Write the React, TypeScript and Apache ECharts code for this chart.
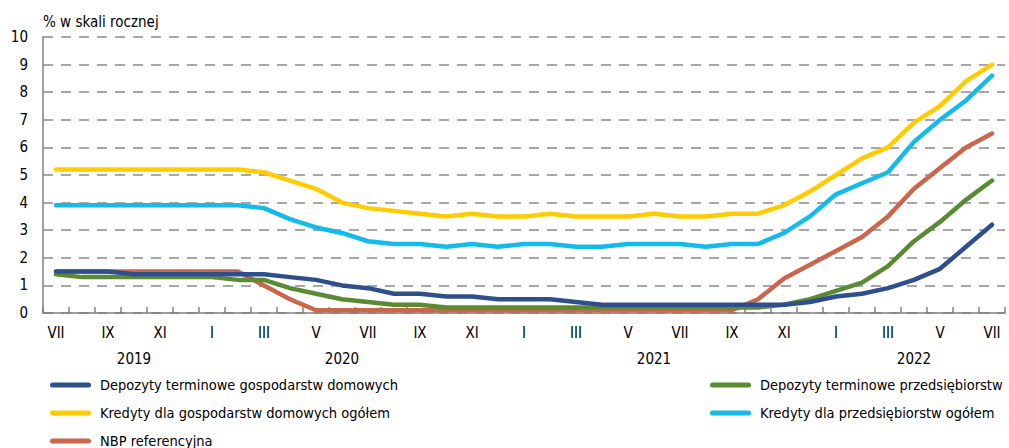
import React, { useEffect, useRef } from "react";
import * as echarts from "echarts";

const months = [
  "VII", "VIII", "IX", "X", "XI", "XII",
  "I", "II", "III", "IV", "V", "VI", "VII", "VIII", "IX", "X", "XI", "XII",
  "I", "II", "III", "IV", "V", "VI", "VII", "VIII", "IX", "X", "XI", "XII",
  "I", "II", "III", "IV", "V", "VI", "VII",
];

const years = ["2019", "2020", "2021", "2022"];
const yearLabelIndex = [3, 11, 23, 33];

const yTicks = [0, 10, 1]; // min, max, interval

const depGosp = [
  1.5, 1.5, 1.5, 1.4, 1.4, 1.4, 1.4, 1.4, 1.4, 1.3, 1.2, 1.0, 0.9, 0.7, 0.7, 0.6, 0.6, 0.5,
  0.5, 0.5, 0.4, 0.3, 0.3, 0.3, 0.3, 0.3, 0.3, 0.3, 0.3, 0.4, 0.6, 0.7, 0.9, 1.2, 1.6, 2.4, 3.2,
];
const depPrzed = [
  1.4, 1.3, 1.3, 1.3, 1.3, 1.3, 1.3, 1.2, 1.2, 0.9, 0.7, 0.5, 0.4, 0.3, 0.3, 0.2, 0.2, 0.2,
  0.2, 0.2, 0.2, 0.2, 0.2, 0.2, 0.2, 0.2, 0.2, 0.2, 0.3, 0.5, 0.8, 1.1, 1.7, 2.6, 3.3, 4.1, 4.8,
];
const kredGosp = [
  5.2, 5.2, 5.2, 5.2, 5.2, 5.2, 5.2, 5.2, 5.1, 4.8, 4.5, 4.0, 3.8, 3.7, 3.6, 3.5, 3.6, 3.5,
  3.5, 3.6, 3.5, 3.5, 3.5, 3.6, 3.5, 3.5, 3.6, 3.6, 3.9, 4.4, 5.0, 5.6, 6.0, 6.9, 7.5, 8.4, 9.0,
];
const kredPrzed = [
  3.9, 3.9, 3.9, 3.9, 3.9, 3.9, 3.9, 3.9, 3.8, 3.4, 3.1, 2.9, 2.6, 2.5, 2.5, 2.4, 2.5, 2.4,
  2.5, 2.5, 2.4, 2.4, 2.5, 2.5, 2.5, 2.4, 2.5, 2.5, 2.9, 3.5, 4.3, 4.7, 5.1, 6.2, 7.0, 7.7, 8.6,
];
const nbp = [
  1.5, 1.5, 1.5, 1.5, 1.5, 1.5, 1.5, 1.5, 1.0, 0.5, 0.1, 0.1, 0.1, 0.1, 0.1, 0.1, 0.1, 0.1,
  0.1, 0.1, 0.1, 0.1, 0.1, 0.1, 0.1, 0.1, 0.1, 0.5, 1.25, 1.75, 2.25, 2.75, 3.5, 4.5, 5.25, 6.0, 6.5,
];

const names = {
  depGosp: "Depozyty terminowe gospodarstw domowych",
  depPrzed: "Depozyty terminowe przedsiębiorstw",
  kredGosp: "Kredyty dla gospodarstw domowych ogółem",
  kredPrzed: "Kredyty dla przedsiębiorstw ogółem",
  nbp: "NBP referencyjna",
};

const colors = {
  depGosp: "#2F4F8C",
  depPrzed: "#5A8A32",
  kredGosp: "#FFCC00",
  kredPrzed: "#12BBEC",
  nbp: "#CB654C",
};

const FONT = "'DejaVu Sans Condensed', sans-serif";
const ICON = "path://M2.5,0 L38.5,0 A2.5,2.5 0 0 1 38.5,5 L2.5,5 A2.5,2.5 0 0 1 2.5,0 Z";

export default function App() {
  const ref = useRef<HTMLDivElement>(null);
  useEffect(() => {
    if (!ref.current) return;
    const chart = echarts.init(ref.current, null, { renderer: "svg" });
    const yearData = months.map((_, i) => {
      const k = yearLabelIndex.indexOf(i);
      return k >= 0 ? years[k] : "";
    });
    const mk = (key: keyof typeof names, data: number[]) => ({
      name: names[key],
      type: "line",
      data,
      showSymbol: false,
      symbol: "none",
      lineStyle: { color: colors[key], width: 4.5, cap: "round", join: "round" },
      itemStyle: { color: colors[key] },
      emphasis: { disabled: true },
    });
    const legendCommon = {
      orient: "vertical",
      top: 371,
      height: 76,
      itemWidth: 41,
      itemHeight: 5,
      itemGap: 10,
      icon: ICON,
      textStyle: {
        fontFamily: FONT,
        fontSize: 14.5,
        color: "#000",
        lineHeight: 18,
        padding: [0, 0, 0, 4],
      },
    };
    chart.setOption({
      animation: false,
      backgroundColor: "#fff",
      textStyle: { fontFamily: FONT },
      grid: { left: 43, right: 4, top: 37, bottom: 135, containLabel: false },
      legend: [
        { ...legendCommon, left: 45, data: [names.depGosp, names.kredGosp, names.nbp] },
        { ...legendCommon, left: 705, data: [names.depPrzed, names.kredPrzed] },
      ],
      xAxis: [
        {
          type: "category",
          data: months,
          boundaryGap: true,
          axisLine: { lineStyle: { color: "#808080", width: 1.5 } },
          axisTick: {
            show: true,
            inside: true,
            length: 6,
            interval: 0,
            lineStyle: { color: "#808080", width: 1.5 },
          },
          axisLabel: {
            interval: 1,
            margin: 12,
            fontSize: 15,
            color: "#000",
            fontFamily: FONT,
          },
          splitLine: { show: false },
        },
        {
          type: "category",
          data: yearData,
          position: "bottom",
          offset: 26,
          boundaryGap: true,
          axisLine: { show: false },
          axisTick: { show: false },
          axisLabel: {
            interval: 0,
            margin: 12,
            fontSize: 15,
            color: "#000",
            fontFamily: FONT,
          },
          splitLine: { show: false },
        },
      ],
      yAxis: {
        type: "value",
        min: yTicks[0],
        max: yTicks[1],
        interval: yTicks[2],
        name: "% w skali rocznej",
        nameLocation: "end",
        nameGap: 8,
        nameTextStyle: {
          align: "left",
          fontSize: 15,
          color: "#000",
          fontFamily: FONT,
        },
        axisLine: { show: true, lineStyle: { color: "#808080", width: 1.5 } },
        axisTick: { show: false },
        axisLabel: { margin: 15, fontSize: 15, color: "#000", fontFamily: FONT },
        splitLine: {
          show: true,
          lineStyle: { color: "#8a8a8a", width: 1.5, type: [10, 8] },
        },
      },
      series: [
        mk("nbp", nbp),
        mk("depPrzed", depPrzed),
        mk("depGosp", depGosp),
        mk("kredGosp", kredGosp),
        mk("kredPrzed", kredPrzed),
      ],
    });
    return () => chart.dispose();
  }, []);
  return (
    <div
      ref={ref}
      style={{ position: "fixed", left: 0, top: 0, width: 1009, height: 448, background: "#fff" }}
    />
  );
}
